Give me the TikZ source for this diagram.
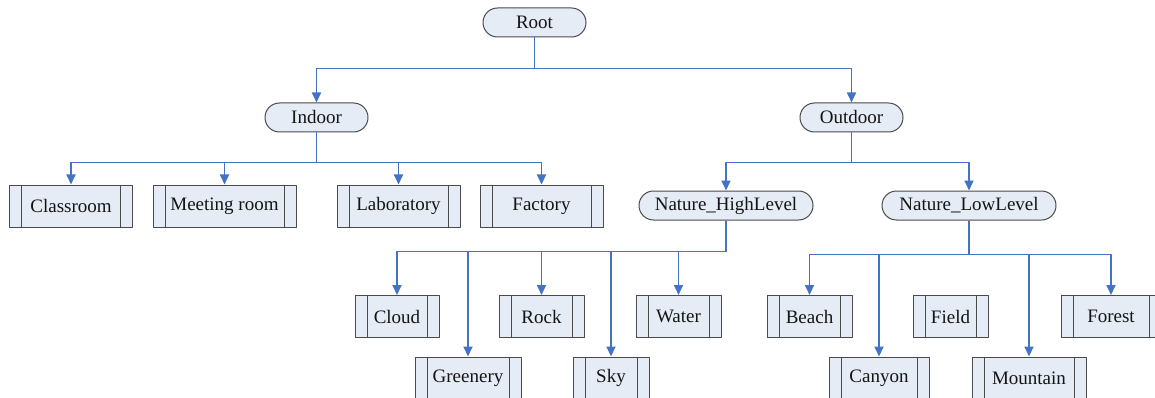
\documentclass[tikz,border=0pt]{standalone}
\usepackage{tikz}
\usepackage{fontspec}
\setmainfont{Liberation Serif}
\definecolor{ink}{HTML}{141414}
\definecolor{edge}{HTML}{4472C4}
\definecolor{boxline}{HTML}{4A4A4A}
\definecolor{boxfill}{HTML}{E6ECF6}
\usetikzlibrary{
  arrows.meta,
  shapes.misc
}
\tikzset{
  every picture/.style={line join=round},
  every node/.style={font=\fontsize{19}{22}\selectfont, text=ink},
  term/.style={
    rounded rectangle,
    draw=boxline,
    fill=boxfill,
    line width=1pt,
    minimum height=29pt,
    inner sep=0pt
  },
  proc/.style={
    rectangle,
    draw=boxline,
    fill=boxfill,
    line width=1pt,
    minimum height=42pt,
    inner sep=0pt,
    path picture={
      \draw[boxline, line width=1pt]
        ([xshift=12pt]path picture bounding box.south west) -- ([xshift=12pt]path picture bounding box.north west)
        ([xshift=-12pt]path picture bounding box.south east) -- ([xshift=-12pt]path picture bounding box.north east);
    }
  },
  link/.style={draw=edge, line width=1.8pt, -{Triangle[width=9pt,length=10pt]}}
}

\begin{document}
\begin{tikzpicture}[x=1pt, y=-1pt]
  \useasboundingbox (0,0) rectangle (1155,398);

  % Top levels
  \node[term, minimum width=103pt] (Root) at (534.5,22.5) {Root};
  \node[term, minimum width=103pt] (Indoor) at (316.5,117.5) {Indoor};
  \node[term, minimum width=103pt] (Outdoor) at (851.5,117.5) {Outdoor};
  \node[term, minimum width=174pt] (HighLevel) at (726,205.5) {Nature\_HighLevel};
  \node[term, minimum width=174pt] (LowLevel) at (969,205.5) {Nature\_LowLevel};

  % Indoor scenes
  \node[proc, minimum width=123pt] (Classroom) at (71,206) {Classroom};
  \node[proc, minimum width=143pt] (Meeting) at (224.5,206) {Meeting room};
  \node[proc, minimum width=123pt] (Laboratory) at (398.5,206) {Laboratory};
  \node[proc, minimum width=123pt] (Factory) at (541.5,206) {Factory};

  % High level nature
  \node[proc, minimum width=84pt] (Cloud) at (397,316.5) {Cloud};
  \node[proc, minimum width=106pt] (Greenery) at (468,378) {Greenery};
  \node[proc, minimum width=85pt] (Rock) at (541.5,316.5) {Rock};
  \node[proc, minimum width=76pt] (Sky) at (611,378) {Sky};
  \node[proc, minimum width=85pt] (Water) at (678.5,316.5) {Water};

  % Low level nature
  \node[proc, minimum width=85pt] (Beach) at (809.5,316.5) {Beach};
  \node[proc, minimum width=100pt] (Canyon) at (879,378) {Canyon};
  \node[proc, minimum width=75pt] (Field) at (950.5,316.5) {Field};
  \node[proc, minimum width=114pt] (Mountain) at (1029,378) {Mountain};
  \node[proc, minimum width=100pt] (Forest) at (1111,316.5) {Forest};

  % Connectors
  \draw[link] (Root.south) -- ++(0,31) -| (Indoor.north);
  \draw[link] (Root.south) -- ++(0,31) -| (Outdoor.north);

  \draw[link] (Indoor.south) -- ++(0,30) -| (Classroom.north);
  \draw[link] (Indoor.south) -- ++(0,30) -| (Meeting.north);
  \draw[link] (Indoor.south) -- ++(0,30) -| (Laboratory.north);
  \draw[link] (Indoor.south) -- ++(0,30) -| (Factory.north);

  \draw[link] (Outdoor.south) -- ++(0,30) -| (HighLevel.north);
  \draw[link] (Outdoor.south) -- ++(0,30) -| (LowLevel.north);

  \draw[link] (HighLevel.south) -- ++(0,31) -| (Cloud.north);
  \draw[link] (HighLevel.south) -- ++(0,31) -| (Greenery.north);
  \draw[link] (HighLevel.south) -- ++(0,31) -| (Rock.north);
  \draw[link] (HighLevel.south) -- ++(0,31) -| (Sky.north);
  \draw[link] (HighLevel.south) -- ++(0,31) -| (Water.north);

  \draw[link] (LowLevel.south) -- ++(0,34) -| (Beach.north);
  \draw[link] (LowLevel.south) -- ++(0,34) -| (Canyon.north);
  \draw[link] (LowLevel.south) -- ++(0,34) -| (Mountain.north);
  \draw[link] (LowLevel.south) -- ++(0,34) -| (Forest.north);
\end{tikzpicture}
\end{document}
